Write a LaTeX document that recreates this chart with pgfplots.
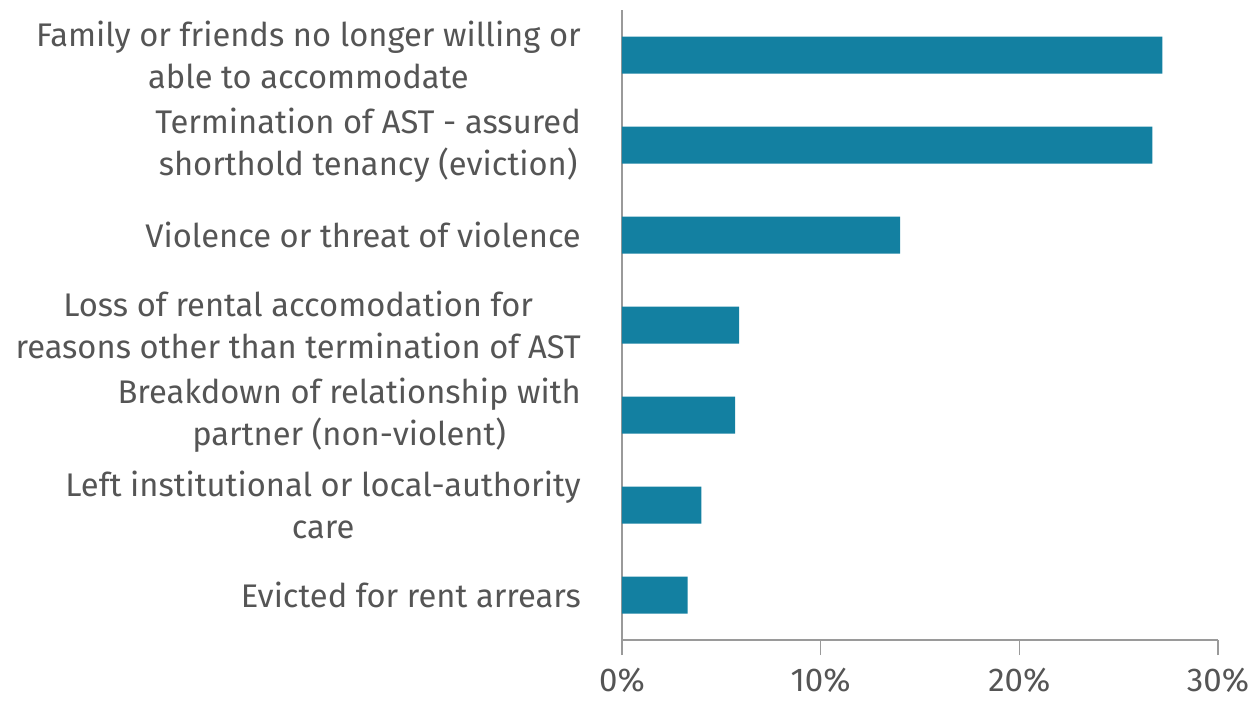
\documentclass[border=0pt]{standalone}
\usepackage{pgfplots}
\pgfplotsset{compat=1.18}
\usepackage{fontspec}
\setmainfont{Fira Sans}
\definecolor{barc}{HTML}{1380A1}
\definecolor{txt}{HTML}{555555}
\definecolor{axg}{HTML}{9A9A9A}
\begin{document}
\begin{tikzpicture}
\path[use as bounding box] (-622pt,-62pt) rectangle (631pt,640pt);
\begin{axis}[
  at={(0,0)}, anchor=south west,
  scale only axis, width=596pt, height=630pt,
  xmin=0, xmax=30, ymin=-0.5, ymax=6.5,
  xbar, bar width=37pt,
  axis x line*=bottom, axis y line*=left,
  axis line style={axg, line width=1.2pt},
  tick style={axg, line width=1.2pt},
  tick align=outside,
  major tick length=15pt, minor tick length=11pt,
  xtick={0,10,20,30}, xticklabels={0\%,10\%,20\%,30\%},
  ytick={0,...,6},
  minor ytick={-0.5,0.5,...,6.5},
  ytick style={draw=none},
  minor tick style={axg, line width=1.2pt},
  yticklabels={
    Evicted for rent arrears,
    {Left institutional or local-authority\\care},
    {Breakdown of relationship with\\partner (non-violent)},
    {Loss of rental accomodation for\\reasons other than termination of AST},
    Violence or threat of violence,
    {Termination of AST - assured\\shorthold tenancy (eviction)},
    {Family or friends no longer willing or\\able to accommodate}},
  yticklabel style={align=center, inner sep=0pt, anchor=east, xshift=-26pt,
    font=\fontsize{32.7}{42}\selectfont, text=txt},
  xticklabel style={inner sep=0pt, anchor=north, yshift=-13pt,
    font=\fontsize{33}{40}\selectfont, text=txt},
  /pgf/number format/assume math mode=true,
]
\addplot[fill=barc, draw=none] coordinates {
  (3.3,0) (4.0,1) (5.7,2) (5.9,3) (14.0,4) (26.7,5) (27.2,6)};
\end{axis}
\end{tikzpicture}
\end{document}
